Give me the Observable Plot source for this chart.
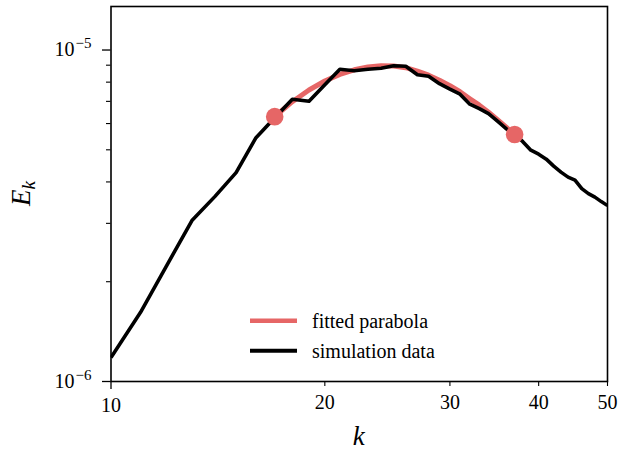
<!DOCTYPE html>
<html>
<head>
<meta charset="utf-8">
<script src="https://cdn.jsdelivr.net/npm/d3@7"></script>
<script src="https://cdn.jsdelivr.net/npm/@observablehq/plot@0.6"></script>
<style>
  html, body { margin: 0; padding: 0; background: white; }
  #chart svg { display: block; }
</style>
</head>
<body>
<div id="chart"></div>
<script>
// Simulation data: wavenumber k and energy spectrum E_k
const simK = [10, 11, 12, 13, 14, 15, 16, 17, 18, 19, 20, 21, 22, 23, 24, 25, 26, 27, 28, 29,
              30, 31, 32, 33, 34, 35, 36, 37, 38, 39, 40, 41, 42, 43, 44, 45, 46, 47, 48, 49, 50];
const simE = [1.181e-6, 1.614e-6, 2.253e-6, 3.058e-6, 3.612e-6, 4.267e-6, 5.440e-6, 6.251e-6,
              7.107e-6, 7.009e-6, 7.860e-6, 8.752e-6, 8.662e-6, 8.752e-6, 8.812e-6, 8.968e-6,
              8.937e-6, 8.425e-6, 8.337e-6, 7.914e-6, 7.618e-6, 7.358e-6, 6.865e-6, 6.653e-6,
              6.427e-6, 6.101e-6, 5.790e-6, 5.574e-6, 5.291e-6, 4.988e-6, 4.852e-6, 4.686e-6,
              4.464e-6, 4.282e-6, 4.136e-6, 4.051e-6, 3.818e-6, 3.688e-6, 3.599e-6, 3.489e-6, 3.394e-6];

// Fitted parabola
const fitK = [17, 18, 19, 20, 21, 22, 23, 24, 25, 26, 27, 28, 29, 30, 31, 32, 33, 34, 35, 36, 37];
const fitE = [6.294e-6, 6.985e-6, 7.577e-6, 8.065e-6, 8.443e-6, 8.717e-6, 8.887e-6, 8.962e-6,
              8.950e-6, 8.843e-6, 8.632e-6, 8.395e-6, 8.110e-6, 7.805e-6, 7.486e-6, 7.131e-6,
              6.817e-6, 6.494e-6, 6.165e-6, 5.851e-6, 5.559e-6];

// Fit range end points
const markerK = [17, 37];
const markerE = [6.294e-6, 5.559e-6];

// Ticks
const xMajorTicks = [10];
const xMinorTicks = [20, 30, 40, 50];
const yMajorTicks = [1e-6, 1e-5];
const yMinorTicks = [2e-6, 3e-6, 4e-6, 5e-6, 6e-6, 7e-6, 8e-6, 9e-6];
const yTickExponents = ["\u22126", "\u22125"];

const legendLabels = ["fitted parabola", "simulation data"];

const RED = "#e66666";
const FONT = "'Liberation Serif', 'Times New Roman', serif";

const simData = simK.map((k, i) => ({k, E: simE[i]}));
const fitData = fitK.map((k, i) => ({k, E: fitE[i]}));
const markerData = markerK.map((k, i) => ({k, E: markerE[i]}));

const W = 620, H = 451;
const mL = 110.5, mR = 13, mT = 6, mB = 70;

const chart = Plot.plot({
  width: W,
  height: H,
  marginLeft: mL,
  marginRight: mR,
  marginTop: mT,
  marginBottom: mB,
  x: {type: "log", domain: [10, 50]},
  y: {type: "log", domain: [1e-6, 1.353e-5]},
  style: {fontFamily: FONT, fontSize: "20px", color: "black", background: "white", overflow: "visible"},
  marks: [
    Plot.line(fitData, {x: "k", y: "E", stroke: RED, strokeWidth: 5, strokeLinejoin: "round", strokeLinecap: "butt"}),
    Plot.line(simData, {x: "k", y: "E", stroke: "black", strokeWidth: 3.6, strokeLinejoin: "round", strokeLinecap: "butt", clip: true}),
    Plot.dot(markerData, {x: "k", y: "E", r: 8.8, fill: RED, stroke: null}),
    Plot.axisX({ticks: xMajorTicks, tickSize: 8, tickPadding: 8.5, tickFormat: d => String(d), label: null, strokeWidth: 1.3, fontSize: 20}),
    Plot.axisX({ticks: xMinorTicks, tickSize: 5, tickPadding: 8.5, tickFormat: d => String(d), label: null, strokeWidth: 1.1, fontSize: 20}),
    Plot.axisY({ticks: yMajorTicks, tickSize: 8.5, tickPadding: 11,
                tickFormat: d => "10|" + yTickExponents[yMajorTicks.indexOf(d)], label: null, strokeWidth: 1.3, fontSize: 20}),
    Plot.axisY({ticks: yMinorTicks, tickSize: 4.5, tickFormat: () => "", label: null, strokeWidth: 1.1}),
    Plot.frame({stroke: "black", strokeWidth: 1.6})
  ]
});

document.getElementById("chart").appendChild(chart);

const svg = d3.select(chart);

// superscript exponents on y tick labels
svg.selectAll('g[aria-label="y-axis tick label"] text').each(function() {
  const t = this.textContent;
  if (!t || t.indexOf("|") < 0) return;
  const [base, exp] = t.split("|");
  const sel = d3.select(this);
  sel.text(null);
  sel.append("tspan").text(base);
  sel.append("tspan").attr("dy", "-8").attr("dx", "1").attr("font-size", "15px").text(exp);
});

// axis labels
const cx = mL + (W - mL - mR) / 2;
const cy = mT + (H - mT - mB) / 2;
svg.append("text")
  .attr("x", cx).attr("y", 445)
  .attr("text-anchor", "middle")
  .attr("font-family", FONT).attr("font-style", "italic").attr("font-size", "27px")
  .attr("fill", "black")
  .text("k");

const yl = svg.append("text")
  .attr("transform", `translate(30,${cy}) rotate(-90)`)
  .attr("text-anchor", "middle")
  .attr("font-family", FONT).attr("font-style", "italic").attr("font-size", "27px")
  .attr("fill", "black");
yl.append("tspan").text("E");
yl.append("tspan").attr("font-size", "19px").attr("dy", "5").text("k");

// legend
const lg = svg.append("g").attr("font-family", FONT).attr("font-size", "20px").attr("text-anchor", "start");
const legendStyles = [{stroke: RED, width: 4.5, y: 320.7}, {stroke: "black", width: 4, y: 350.7}];
legendLabels.forEach((lab, i) => {
  const s = legendStyles[i];
  lg.append("line").attr("x1", 250).attr("x2", 297).attr("y1", s.y).attr("y2", s.y)
    .attr("stroke", s.stroke).attr("stroke-width", s.width);
  lg.append("text").attr("x", 312).attr("y", s.y + 7).attr("fill", "black")
    .attr("text-anchor", "start").text(lab);
});
</script>
</body>
</html>
